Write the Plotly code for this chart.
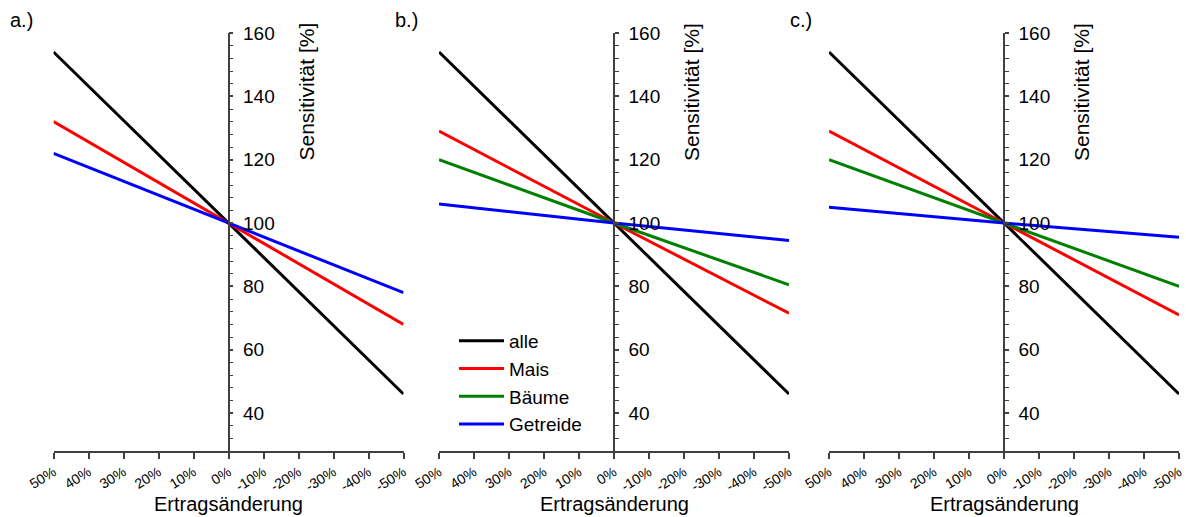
import plotly.graph_objects as go

W, H = 1186, 517

x_pos = [50, 0, -50]
x_ticks = [50, 40, 30, 20, 10, 0, -10, -20, -30, -40, -50]
x_ticktext = ["50%", "40%", "30%", "20%", "10%", "0%", "-10%", "-20%", "-30%", "-40%", "-50%"]
y_ticks = [40, 60, 80, 100, 120, 140, 160]

# panel a
a_alle = [154, 100, 46]
a_mais = [132, 100, 68]
a_getreide = [122, 100, 78]
# panel b
b_alle = [154, 100, 46]
b_mais = [129, 100, 71.5]
b_baeume = [120, 100, 80.5]
b_getreide = [106, 100, 94.5]
# panel c
c_alle = [154, 100, 46]
c_mais = [129, 100, 71]
c_baeume = [120, 100, 80]
c_getreide = [105, 100, 95.5]

colors = {"alle": "#000000", "Mais": "#FF0000", "Bäume": "#008000", "Getreide": "#0000FF"}

panels = [
    {"label": "a.)", "series": [("alle", a_alle), ("Mais", a_mais), ("Getreide", a_getreide)],
     "x0": 53.5, "x1": 403.5, "lab_x": 8},
    {"label": "b.)", "series": [("alle", b_alle), ("Mais", b_mais), ("Bäume", b_baeume), ("Getreide", b_getreide)],
     "x0": 439, "x1": 789, "lab_x": 393},
    {"label": "c.)", "series": [("alle", c_alle), ("Mais", c_mais), ("Bäume", c_baeume), ("Getreide", c_getreide)],
     "x0": 829, "x1": 1179, "lab_x": 788},
]

FONT = "Arial, Liberation Sans, sans-serif"
fig = go.Figure()
y_dom = [1 - 451 / H, 1 - 33 / H]
axis_col = "#404040"
annotations = []

for i, p in enumerate(panels):
    n = "" if i == 0 else str(i + 1)
    xa = "x" + n
    ya = "y" + n
    for name, vals in p["series"]:
        fig.add_trace(go.Scatter(
            x=x_pos, y=vals, mode="lines", name=name, xaxis=xa, yaxis=ya,
            line=dict(color=colors[name], width=3),
            showlegend=(i == 1),
        ))
    dom = [p["x0"] / W, p["x1"] / W]
    ymid = (p["x0"] + p["x1"]) / 2
    fig.update_layout(**{
        "xaxis" + n: dict(
            domain=dom, range=[50, -50], anchor=ya, automargin=False,
            tickmode="array", tickvals=x_ticks, ticktext=x_ticktext,
            tickangle=-32, ticks="outside", ticklen=6, tickwidth=1.5, tickcolor=axis_col,
            showline=True, linecolor=axis_col, linewidth=1.5,
            showgrid=False, zeroline=False,
            tickfont=dict(size=14, color="#000", family=FONT),
        ),
        "yaxis" + n: dict(
            domain=y_dom, range=[28, 160], anchor="free", position=ymid / W,
            automargin=False, side="right",
            tickmode="array", tickvals=y_ticks,
            ticks="outside", ticklen=4, tickwidth=1.5, tickcolor=axis_col,
            minor=dict(dtick=4, tick0=0, ticks="outside", ticklen=4, tickwidth=1, tickcolor=axis_col),
            showline=True, linecolor=axis_col, linewidth=1.5,
            showgrid=False, zeroline=False,
            tickfont=dict(size=19, color="#000", family=FONT),
            ticklabelstandoff=6,
        ),
    })
    annotations.append(dict(
        text="Sensitivität [%]", x=(ymid + 78) / W, y=1 - 92 / H, xref="paper", yref="paper",
        textangle=-90, showarrow=False, xanchor="center", yanchor="middle",
        font=dict(size=21, color="#000", family=FONT),
    ))
    annotations.append(dict(
        text="Ertragsänderung", x=ymid / W, y=1 - 504 / H, xref="paper", yref="paper",
        showarrow=False, xanchor="center", yanchor="middle",
        font=dict(size=20, color="#000", family=FONT),
    ))
    annotations.append(dict(
        text=p["label"], x=p["lab_x"] / W, y=1 - 20 / H, xref="paper", yref="paper",
        showarrow=False, xanchor="left", yanchor="middle",
        font=dict(size=20, color="#000", family=FONT),
    ))

fig.update_layout(
    width=W, height=H, autosize=False,
    margin=dict(l=0, r=0, t=0, b=0, pad=0, autoexpand=False),
    paper_bgcolor="white", plot_bgcolor="white",
    font=dict(family=FONT, color="#000"),
    annotations=annotations,
    legend=dict(
        x=454 / W, y=1 - 322 / H, xanchor="left", yanchor="top",
        bgcolor="rgba(0,0,0,0)", font=dict(size=19, color="#000", family=FONT),
        itemwidth=45, tracegroupgap=0,
    ),
)

fig.write_html("out.html",
               config={"displayModeBar": False},
               post_script="document.body.style.margin='0px';document.body.style.padding='0px';"
                           "document.body.style.overflow='hidden';")
